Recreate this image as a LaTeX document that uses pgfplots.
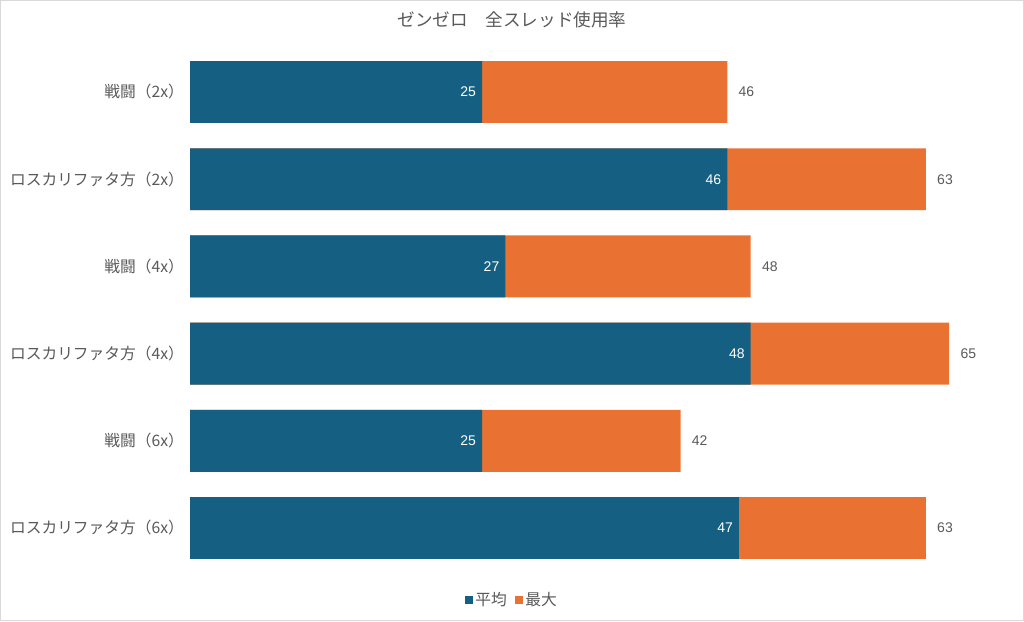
\documentclass[border=0pt]{standalone}
\usepackage{fontspec}
\setmainfont{Liberation Sans}
\newfontfamily\cjk{Noto Sans CJK JP}
\usepackage{pgfplots}
\pgfplotsset{compat=1.18}
\definecolor{cblue}{HTML}{156082}
\definecolor{corange}{HTML}{E97132}
\definecolor{ctext}{HTML}{595959}
\begin{document}
\begin{tikzpicture}
\path (0,0) rectangle (768pt,465.75pt);
\draw[draw=black!15, line width=0.8pt] (0.6pt,0.6pt) rectangle (767.4pt,465.15pt);
\node[font=\cjk\fontsize{13.2}{15}\selectfont, text=ctext] at (384pt,450.5pt) {ゼンゼロ　全スレッド使用率};
\begin{axis}[
  at={(142.5pt,37.05pt)}, anchor=south west,
  scale only axis, width=613.2pt, height=392.4pt,
  xmin=0, xmax=70, ymin=-0.5, ymax=5.5, y dir=reverse,
  axis line style={draw=none}, major tick length=0pt,
  xtick=\empty,
  ytick={0,1,2,3,4,5},
  yticklabels={戦闘（2x）,ロスカリファタ方（2x）,戦闘（4x）,ロスカリファタ方（4x）,戦闘（6x）,ロスカリファタ方（6x）},
  yticklabel style={font=\cjk\fontsize{11.8}{13}\selectfont, text=ctext},
  y tick label style={xshift=-1pt},
  /pgf/number format/assume math mode=true,
  xbar, bar width=0.71, bar shift=0pt,
  clip=false,
  reverse legend,
  legend columns=2,
  legend style={at={(0.394,-0.054)}, anchor=center, draw=none, fill=none,
    font=\cjk\fontsize{11.8}{13}\selectfont, text=ctext,
    /tikz/every even column/.append style={column sep=4pt}},
  legend cell align=left,
]
\addplot[fill=corange, draw=none,
  legend image code/.code={\fill[corange] (0pt,-3pt) rectangle (6pt,3pt);},
  nodes near coords,
  every node near coord/.append style={anchor=west, xshift=5pt, text=ctext, font=\fontsize{10.5}{12}\selectfont}]
  coordinates {(46,0) (63,1) (48,2) (65,3) (42,4) (63,5)};
\addlegendentry{最大}
\addplot[fill=cblue, draw=none,
  legend image code/.code={\fill[cblue] (0pt,-3pt) rectangle (6pt,3pt);},
  nodes near coords,
  every node near coord/.append style={anchor=east, xshift=-1pt, text=white, font=\fontsize{10.5}{12}\selectfont}]
  coordinates {(25,0) (46,1) (27,2) (48,3) (25,4) (47,5)};
\addlegendentry{平均}
\end{axis}
\end{tikzpicture}
\end{document}
